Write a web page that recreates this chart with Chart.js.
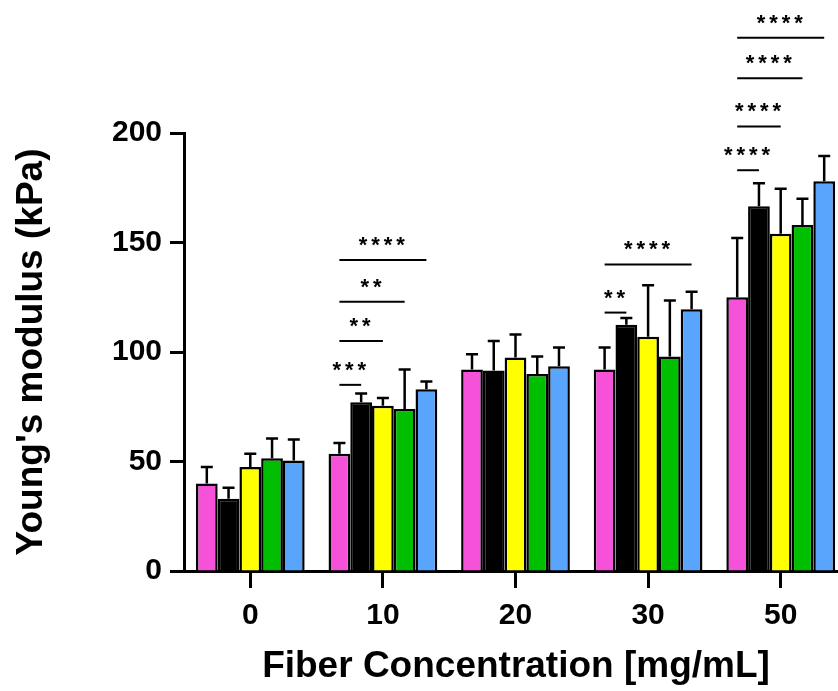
<!DOCTYPE html>
<html>
<head>
<meta charset="utf-8">
<script src="https://cdn.jsdelivr.net/npm/chart.js@4.4.1/dist/chart.umd.min.js"></script>
<style>
    html, body { margin: 0; padding: 0; background: #fff; overflow: hidden; }
    #wrap { position: relative; width: 847px; height: 691px; }
</style>
</head>
<body>
<div id="wrap"><canvas id="chart" width="847" height="691"></canvas></div>
<script>
const concentrations = ['0', '10', '20', '30', '50'];
const yTicks = [0, 50, 100, 150, 200];
const xTitle = 'Fiber Concentration [mg/mL]';

const groupNames = ['Group 1', 'Group 2', 'Group 3', 'Group 4', 'Group 5'];
const groupColors = ['#f652d9', '#000000', '#ffff00', '#00bf00', '#59a4fc'];

// mean Young's modulus (kPa) per concentration
const group1Means = [40, 53.5, 92, 92, 125];
const group2Means = [33, 77, 91.5, 112.5, 166.5];
const group3Means = [47.5, 75.5, 97.5, 107, 154];
const group4Means = [51.5, 74, 90, 98, 158];
const group5Means = [50.5, 83, 93.5, 119.5, 178];

// upper error (SD)
const group1Sd = [7.5, 5, 7, 10, 27];
const group2Sd = [5, 4, 13.5, 3, 10.5];
const group3Sd = [6, 3.5, 10.5, 23.5, 20.5];
const group4Sd = [9, 18, 8, 25.5, 12];
const group5Sd = [9.5, 3.5, 8.5, 8, 11.5];

// significance brackets: concentration index, from group, to group, height (kPa), label
const sigCategory = [1, 1, 1, 1, 3, 3, 4, 4, 4, 4];
const sigFrom = [0, 0, 0, 0, 0, 0, 0, 0, 0, 0];
const sigTo = [1, 2, 3, 4, 1, 4, 1, 2, 3, 4];
const sigLevel = [85, 105, 123, 142, 118, 140, 183, 203, 225, 243.5];
const sigLabel = ['***', '**', '**', '****', '**', '****', '****', '****', '****', '****'];

const allMeans = [group1Means, group2Means, group3Means, group4Means, group5Means];
const allSd = [group1Sd, group2Sd, group3Sd, group4Sd, group5Sd];

const FONT = "'Liberation Sans', Arial, sans-serif";

const errorBarPlugin = {
    id: 'errorBars',
    afterDatasetsDraw(chart) {
        const ctx = chart.ctx;
        const yScale = chart.scales.y;
        ctx.save();
        ctx.strokeStyle = '#000';
        ctx.lineWidth = 2.5;
        allSd.forEach((sd, di) => {
            const meta = chart.getDatasetMeta(di);
            meta.data.forEach((bar, i) => {
                const top = yScale.getPixelForValue(allMeans[di][i] + sd[i]);
                ctx.beginPath();
                ctx.moveTo(bar.x, bar.y);
                ctx.lineTo(bar.x, top);
                ctx.moveTo(bar.x - 6, top);
                ctx.lineTo(bar.x + 6, top);
                ctx.stroke();
            });
        });

        ctx.lineWidth = 2;
        ctx.fillStyle = '#000';
        ctx.font = `bold 22px ${FONT}`;
        ctx.textAlign = 'center';
        ctx.textBaseline = 'alphabetic';
        sigLevel.forEach((level, k) => {
            const x1 = chart.getDatasetMeta(sigFrom[k]).data[sigCategory[k]].x;
            const x2 = chart.getDatasetMeta(sigTo[k]).data[sigCategory[k]].x;
            const y = yScale.getPixelForValue(level);
            ctx.beginPath();
            ctx.moveTo(x1, y);
            ctx.lineTo(x2, y);
            ctx.stroke();
            const chars = sigLabel[k].split('');
            const step = 12.5;
            const cx = (x1 + x2) / 2 - 1;
            chars.forEach((c, j) => {
                ctx.fillText(c, cx + (j - (chars.length - 1) / 2) * step, y - 8);
            });
        });

        // x axis title, centred on the visible part of the axis
        ctx.font = `bold 37px ${FONT}`;
        ctx.textBaseline = 'middle';
        ctx.fillText(xTitle, 516, 667);
        ctx.restore();
    },
};

const datasets = groupNames.map((name, i) => ({
    label: name,
    data: allMeans[i],
    backgroundColor: groupColors[i],
    borderColor: '#000',
    borderWidth: 2.5,
    categoryPercentage: 0.82,
    barPercentage: 1.0,
}));

new Chart(document.getElementById('chart').getContext('2d'), {
    type: 'bar',
    data: { labels: concentrations, datasets },
    plugins: [errorBarPlugin],
    options: {
        responsive: false,
        animation: false,
        devicePixelRatio: 1,
        layout: { padding: { top: 133, right: 0, left: 0, bottom: 0 } },
        plugins: { legend: { display: false }, tooltip: { enabled: false } },
        scales: {
            x: {
                afterFit(scale) { scale.height = 120; },
                border: { color: '#000', width: 3 },
                grid: {
                    offset: false,
                    drawOnChartArea: false,
                    tickLength: 17,
                    tickWidth: 3,
                    tickColor: '#000',
                },
                ticks: {
                    color: '#000',
                    padding: 10,
                    font: { family: FONT, size: 30, weight: 'bold' },
                },
            },
            y: {
                min: 0,
                max: 200,
                afterFit(scale) { scale.width = 184; },
                afterBuildTicks(scale) { scale.ticks = yTicks.map((v) => ({ value: v })); },
                border: { color: '#000', width: 3 },
                grid: {
                    drawOnChartArea: false,
                    tickLength: 14,
                    tickWidth: 3,
                    tickColor: '#000',
                },
                ticks: {
                    color: '#000',
                    padding: 8,
                    font: { family: FONT, size: 30, weight: 'bold' },
                },
                title: {
                    display: true,
                    text: "Young's modulus (kPa)",
                    color: '#000',
                    padding: { top: 10, bottom: 0 },
                    font: { family: FONT, size: 37, weight: 'bold' },
                },
            },
        },
    },
});
</script>
</body>
</html>
